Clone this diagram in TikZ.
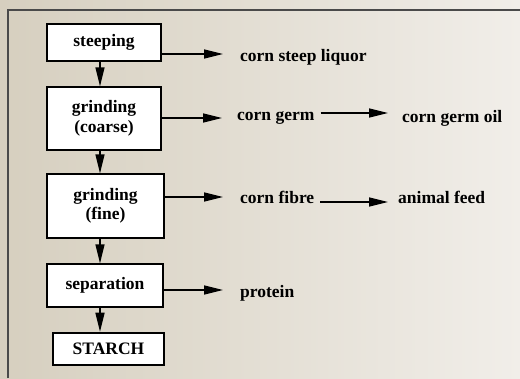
\documentclass[tikz,border=0pt]{standalone}
\usepackage{fontspec}
\setmainfont{Liberation Serif}
\usetikzlibrary{arrows.meta}
\definecolor{bgl}{HTML}{D6CFBF}
\definecolor{bgm}{HTML}{E4DFD4}
\definecolor{bgr}{HTML}{F1EEE9}
\definecolor{framec}{HTML}{4A4A4A}
\tikzset{
  box/.style={draw=black, line width=1.2pt, fill=white, inner sep=0pt, align=center, font=\bfseries\fontsize{17.5}{19.5}\selectfont},
  lab/.style={inner sep=0pt, anchor=west, font=\bfseries\fontsize{17.5}{19.5}\selectfont},
  arr/.style={line width=1.4pt, -{Triangle[length=19pt,width=9pt]}}
}
\begin{document}
\begin{tikzpicture}[x=1pt,y=-1pt]
\useasboundingbox (0,0) rectangle (520,378);
\shade[left color=bgl, middle color=bgm, right color=bgr] (0,0) rectangle (520,378);
\draw[framec, line width=1.6pt] (8,378) -- (8,10) -- (520,10);
% boxes
\node[box, minimum width=114pt, minimum height=37pt] (steep) at (104,42.5) {steeping};
\node[box, minimum width=114pt, minimum height=63pt] (coarse) at (104,118.5) {grinding\\(coarse)};
\node[box, minimum width=117pt, minimum height=64pt] (fine) at (105.5,206) {grinding\\(fine)};
\node[box, minimum width=116pt, minimum height=43pt] (sep) at (105,285.5) {separation};
\node[box, line width=2.6pt, minimum width=111pt, minimum height=32pt] (starch) at (108.5,349) {STARCH};
% labels
\node[lab] (csl) at (240,57) {corn steep liquor};
\node[lab] (cg) at (237,118) {corn germ};
\node[lab] (cgo) at (402,118) {corn germ oil};
\node[lab] (cf) at (240,197) {corn fibre};
\node[lab] (af) at (398,197) {animal feed};
\node[lab] (prot) at (240,293) {protein};
% vertical arrows
\coordinate (vx) at (100,0);
\draw[arr] (vx |- steep.south) -- (vx |- coarse.north);
\draw[arr] (vx |- coarse.south) -- (vx |- fine.north);
\draw[arr] (vx |- fine.south) -- (vx |- sep.north);
\draw[arr] (vx |- sep.south) -- (vx |- starch.north);
% horizontal arrows
\draw[arr, shorten >=17pt] ([yshift=3pt]steep.east |- csl.west) -- ([yshift=3pt]csl.west);
\draw[arr, shorten >=15pt] (coarse.east |- cg.west) -- (cg.west);
\draw[arr, shorten >=14pt, shorten <=6pt] ([yshift=5pt]cg.east) -- ([yshift=5pt]cgo.west);
\draw[arr, shorten >=17pt] (fine.east |- cf.west) -- (cf.west);
\draw[arr, shorten >=10pt, shorten <=6pt] ([yshift=-5pt]cf.east) -- ([yshift=-5pt]af.west);
\draw[arr, shorten >=17pt] ([yshift=3pt]sep.east |- prot.west) -- ([yshift=3pt]prot.west);
\end{tikzpicture}
\end{document}
